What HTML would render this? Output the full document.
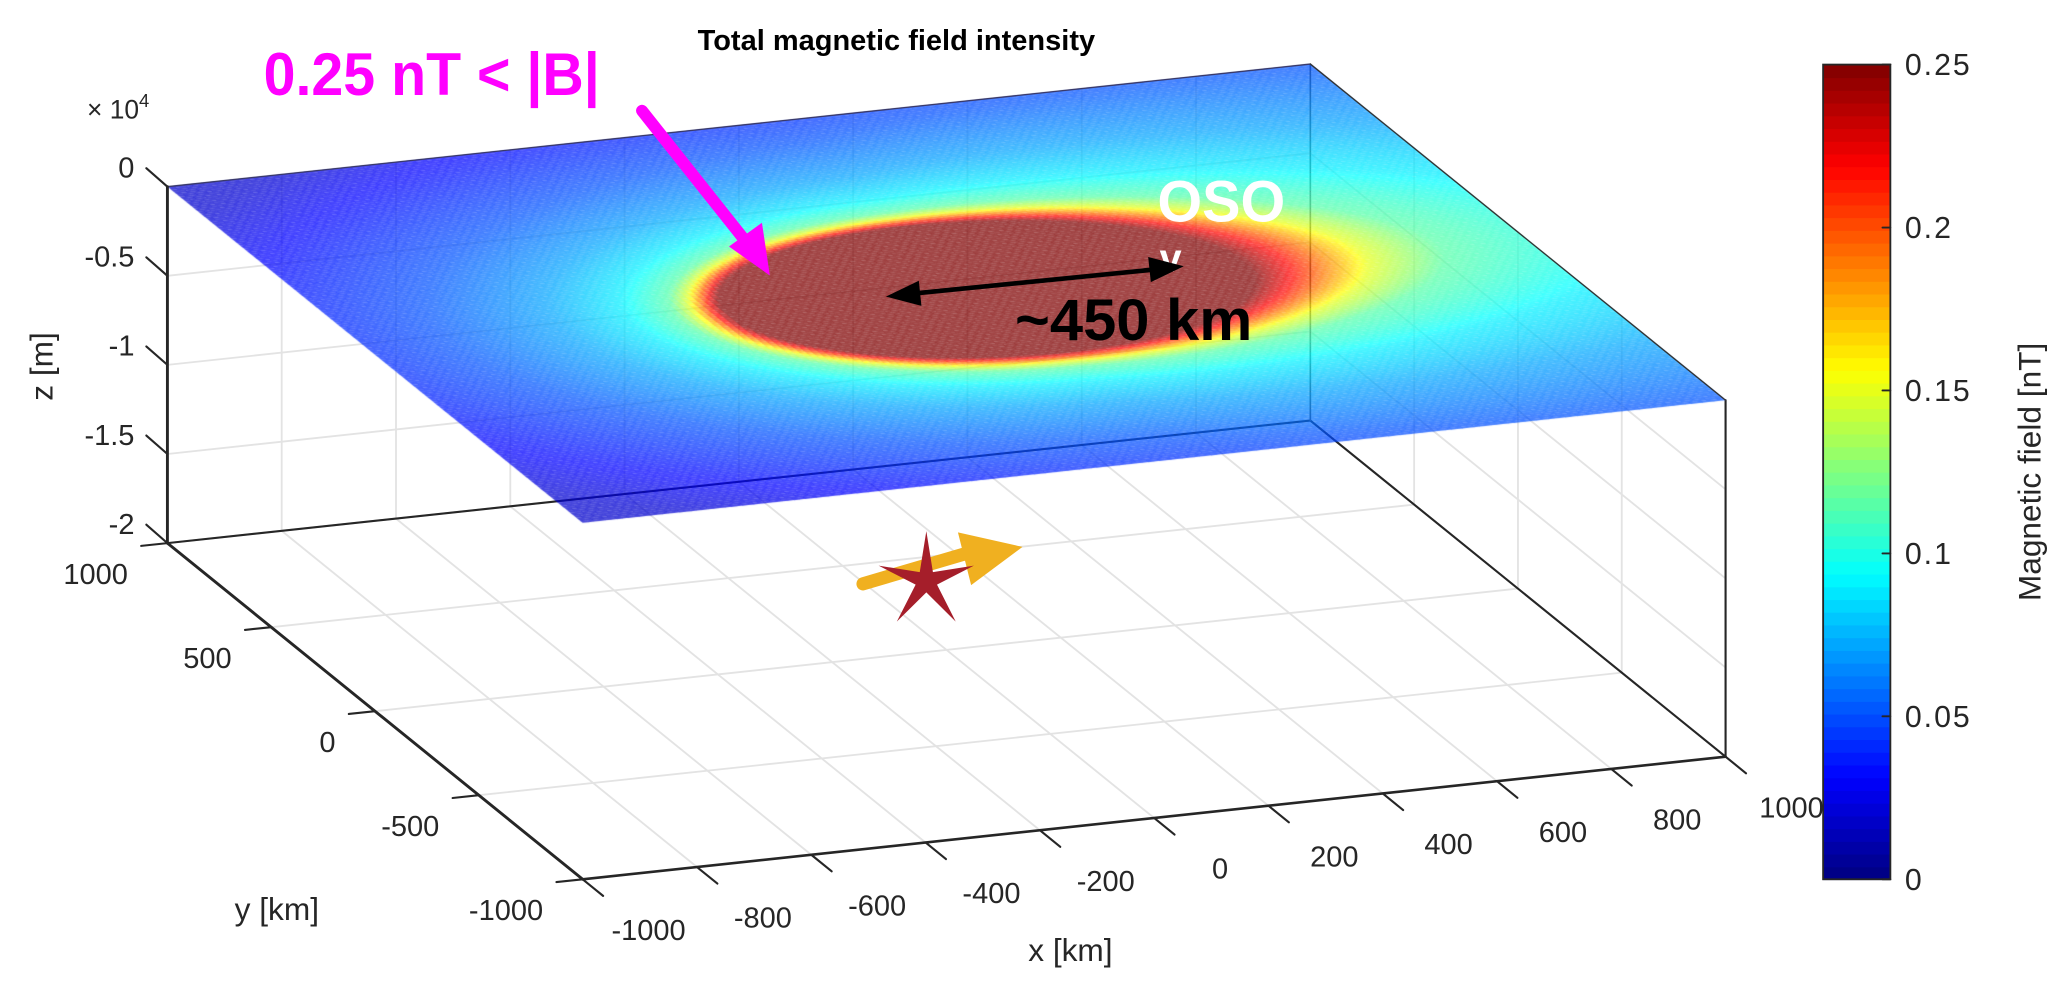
<!DOCTYPE html>
<html><head><meta charset="utf-8"><title>Total magnetic field intensity</title>
<style>
html,body{margin:0;padding:0;background:#fff;}
#wrap{position:relative;width:2067px;height:990px;overflow:hidden;}
.layer{position:absolute;left:0;top:0;width:2067px;height:990px;}
text{font-family:"Liberation Sans",Arial,sans-serif;}
</style></head>
<body>
<div id="wrap">
<svg id="back" class="layer" viewBox="0 0 1568 751" preserveAspectRatio="none"></svg>
<canvas id="surf" class="layer" width="2067" height="990"></canvas>
<svg id="front" class="layer" viewBox="0 0 1568 751" preserveAspectRatio="none"></svg>
</div>
<script>
// ---- data ----
const xTicks = [-1000,-800,-600,-400,-200,0,200,400,600,800,1000];
const yTicks = [-1000,-500,0,500,1000];
const zTicks = [0,-5000,-10000,-15000,-20000];
const zTickLabels = ["0","-0.5","-1","-1.5","-2"];
const cbTicks = [0,0.05,0.1,0.15,0.2,0.25];
const cbTickLabels = ["0","0.05","0.1","0.15","0.2","0.25"];
const fieldCenter = [70,0];
const profileExcess = [0,30,60,100,200,350,600,900,1200,2000];
const profileB = [0.25,0.2,0.15,0.115,0.09,0.072,0.052,0.035,0.02,0.01];
const starPos = [110,400];

// ---- projection (view units) ----
const S = 2067/1568;
function P(x,y,z){
  const u=(x+1000)/2000, v=(y+1000)/2000, w=(z+20000)/20000;
  return [442+u*867-v*315, 667-u*93-v*255-w*270.4];
}
const NS="http://www.w3.org/2000/svg";
function el(parent,tag,attrs,name,txt){
  const e=document.createElementNS(NS,tag);
  for(const k in attrs) e.setAttribute(k,attrs[k]);
  
  
  if(txt!==undefined) e.textContent=txt;
  parent.appendChild(e); return e;
}
function line(parent,a,b,stroke,w,name){
  return el(parent,'line',{x1:a[0],y1:a[1],x2:b[0],y2:b[1],stroke:stroke,'stroke-width':w,'stroke-linecap':'round'},name);
}
function jet(t){
  t=Math.max(0,Math.min(1,t));
  const c=v=>Math.round(255*Math.max(0,Math.min(1,v)));
  return [c(1.5-Math.abs(4*t-3)),c(1.5-Math.abs(4*t-2)),c(1.5-Math.abs(4*t-1))];
}
function interp(xs,ys,x){
  if(x<=xs[0]) return ys[0];
  for(let i=1;i<xs.length;i++){ if(x<=xs[i]){const f=(x-xs[i-1])/(xs[i]-xs[i-1]);return ys[i-1]+f*(ys[i]-ys[i-1]);} }
  return ys[ys.length-1];
}
function field(x,y){
  const dx=x-fieldCenter[0], dy=(y-fieldCenter[1])*1.2;
  const r=Math.sqrt(dx*dx+dy*dy)||1;
  const e=Math.max(0,r-450);
  const cx=dx/r;
  const f=cx>0 ? 1-0.7*cx : 1+0.25*(-cx);
  return interp(profileExcess,profileB,e*f);
}

// ---- back layer: grid + box behind surface ----
const back=document.getElementById('back');
const G='#e3e3e3';
const zmin=-20000,zmax=0;
xTicks.forEach(x=>{ line(back,P(x,-1000,zmin),P(x,1000,zmin),G,1.4,'floor-grid-x');
  line(back,P(x,1000,zmin),P(x,1000,zmax),G,1.4,'back-wall-grid-x'); });
yTicks.forEach(y=>{ line(back,P(-1000,y,zmin),P(1000,y,zmin),G,1.4,'floor-grid-y');
  line(back,P(1000,y,zmin),P(1000,y,zmax),G,1.4,'side-wall-grid-y'); });
zTicks.forEach(z=>{ line(back,P(-1000,1000,z),P(1000,1000,z),G,1.4,'back-wall-grid-z');
  line(back,P(1000,1000,z),P(1000,-1000,z),G,1.4,'side-wall-grid-z'); });
line(back,P(-1000,1000,zmin),P(1000,1000,zmin),'#262626',1.6,'box-edge-back');
line(back,P(1000,1000,zmin),P(1000,-1000,zmin),'#262626',1.6,'box-edge-right');
line(back,P(1000,1000,zmin),P(1000,1000,zmax),'#555',1.2,'box-edge-back-vertical');
line(back,P(1000,-1000,zmin),P(1000,-1000,zmax),'#262626',1.6,'box-edge-front-vertical');

// ---- surface (canvas) ----
const cv=document.getElementById('surf'), ctx=cv.getContext('2d');
const o=P(0,0,0);
ctx.setTransform(S*867/2000, S*-93/2000, S*-315/2000, S*-255/2000, S*o[0], S*o[1]);
ctx.globalAlpha=0.72;
const step=10;
for(let x=-1000;x<1000;x+=step){
  for(let y=-1000;y<1000;y+=step){
    const c=jet(field(x+step/2,y+step/2)/0.25);
    ctx.fillStyle='rgb('+c[0]+','+c[1]+','+c[2]+')';
    ctx.fillRect(x,y,step+0.6,step+0.6);
  }
}

// ---- front layer ----
const fr=document.getElementById('front');
const T='#262626';
line(fr,P(-1000,1000,zmax),P(1000,1000,zmax),'#3a3a6a',1,'surface-edge-back');
line(fr,P(1000,1000,zmax),P(1000,-1000,zmax),'#333',1,'surface-edge-right');
// axes
line(fr,P(-1000,1000,zmin),P(-1000,1000,zmax),T,2.2,'z-axis-line');
line(fr,P(-1000,1000,zmin),P(-1000,-1000,zmin),T,2.2,'y-axis-line');
line(fr,P(-1000,-1000,zmin),P(1000,-1000,zmin),T,2,'x-axis-line');
xTicks.forEach((x,i)=>{ const p=P(x,-1000,zmin);
  line(fr,p,[p[0]+15.5,p[1]+12.6],T,1.6,'x-tick');
  el(fr,'text',{x:p[0]+50,y:p[1]+46,'text-anchor':'middle','font-size':22,fill:T},'x-tick-label',String(x)); });
yTicks.forEach(y=>{ const p=P(-1000,y,zmin);
  line(fr,p,[p[0]-19.9,p[1]+2.1],T,1.6,'y-tick');
  el(fr,'text',{x:p[0]-30,y:p[1]+31,'text-anchor':'end','font-size':22,fill:T},'y-tick-label',String(y)); });
zTicks.forEach((z,i)=>{ const p=P(-1000,1000,z);
  line(fr,p,[p[0]-16,p[1]-14],T,1.6,'z-tick');
  el(fr,'text',{x:p[0]-25,y:p[1]-7,'text-anchor':'end','font-size':22,fill:T},'z-tick-label',zTickLabels[i]); });
const ex=el(fr,'text',{x:66,y:90,'font-size':20,fill:T},'z-exponent-label','× 10');
el(ex,'tspan',{dy:-9,'font-size':14},'z-exponent-power','4');
el(fr,'text',{x:0,y:0,'font-size':24,fill:T,'text-anchor':'middle',transform:'translate(40,278) rotate(-90)'},'z-axis-title','z [m]');
el(fr,'text',{x:210,y:698,'font-size':24,fill:T,'text-anchor':'middle'},'y-axis-title','y [km]');
el(fr,'text',{x:812,y:729,'font-size':24,fill:T,'text-anchor':'middle'},'x-axis-title','x [km]');
el(fr,'text',{x:680,y:38,'font-size':22,'font-weight':'bold',fill:'#000','text-anchor':'middle'},'chart-title','Total magnetic field intensity');

// colorbar
const cbX=1383, cbW=51, cbTop=49, cbBot=667;
const nb=64;
for(let i=0;i<nb;i++){
  const c=jet((i+0.5)/nb);
  const y0=cbBot-(i+1)*(cbBot-cbTop)/nb;
  el(fr,'rect',{x:cbX,y:y0,width:cbW,height:(cbBot-cbTop)/nb+0.6,fill:'rgb('+c+')'},'colorbar-band');
}
el(fr,'rect',{x:cbX,y:cbTop,width:cbW,height:cbBot-cbTop,fill:'none',stroke:T,'stroke-width':1.4},'colorbar-frame');
cbTicks.forEach((v,i)=>{ const y=cbBot-v/0.25*(cbBot-cbTop);
  line(fr,[cbX+cbW-6,y],[cbX+cbW,y],T,1.4,'colorbar-tick');
  el(fr,'text',{x:1445,y:y+8,'font-size':23,fill:T,'letter-spacing':'1.5'},'colorbar-tick-label',cbTickLabels[i]); });
el(fr,'text',{x:0,y:0,'font-size':24,fill:T,'text-anchor':'middle',transform:'translate(1548,358) rotate(-90)'},'colorbar-title','Magnetic field [nT]');

// annotations
el(fr,'text',{x:200,y:72,'font-size':46,'font-weight':'bold',fill:'#ff00ff',textLength:255,lengthAdjust:'spacingAndGlyphs'},'threshold-annotation','0.25 nT < |B|');
line(fr,[487,84],[568,186],'#ff00ff',9,'threshold-arrow-shaft');
el(fr,'polygon',{points:'584,209 553,187 578,169',fill:'#ff00ff'},'threshold-arrow-head');
el(fr,'text',{x:878,y:168,'font-size':44,'font-weight':'bold',fill:'#fff',textLength:97,lengthAdjust:'spacingAndGlyphs'},'oso-label','OSO');
el(fr,'text',{x:888,y:206,'font-size':30,'font-weight':'bold',fill:'#fff','text-anchor':'middle'},'oso-marker','v');
line(fr,[690,223],[880,204],'#000',3.5,'distance-arrow-line');
el(fr,'polygon',{points:'672,225 697,213 699,232',fill:'#000'},'distance-arrow-head-left');
el(fr,'polygon',{points:'898,202 871,195 873,214',fill:'#000'},'distance-arrow-head-right');
el(fr,'text',{x:770,y:258,'font-size':44,'font-weight':'bold',fill:'#000',textLength:180,lengthAdjust:'spacingAndGlyphs'},'distance-label','~450 km');

// direction arrow + star on floor
const sp=P(starPos[0],starPos[1],zmin);
line(fr,[sp[0]-48,sp[1]+6],[sp[0]+30,sp[1]-17],'#f0b020',10,'wind-arrow-shaft');
el(fr,'polygon',{points:(sp[0]+24)+','+(sp[1]-33)+' '+(sp[0]+73)+','+(sp[1]-22)+' '+(sp[0]+34)+','+(sp[1]+7),fill:'#f0b020'},'wind-arrow-head');
let pts=[];
for(let k=0;k<10;k++){
  const a=-Math.PI/2+k*Math.PI/5, r=(k%2===0)?40:9;
  pts.push((sp[0]+r*Math.cos(a)*0.95).toFixed(1)+','+(sp[1]+4+r*Math.sin(a)*0.95).toFixed(1));
}
el(fr,'polygon',{points:pts.join(' '),fill:'#a51e2a'},'source-star');
</script>
</body></html>
